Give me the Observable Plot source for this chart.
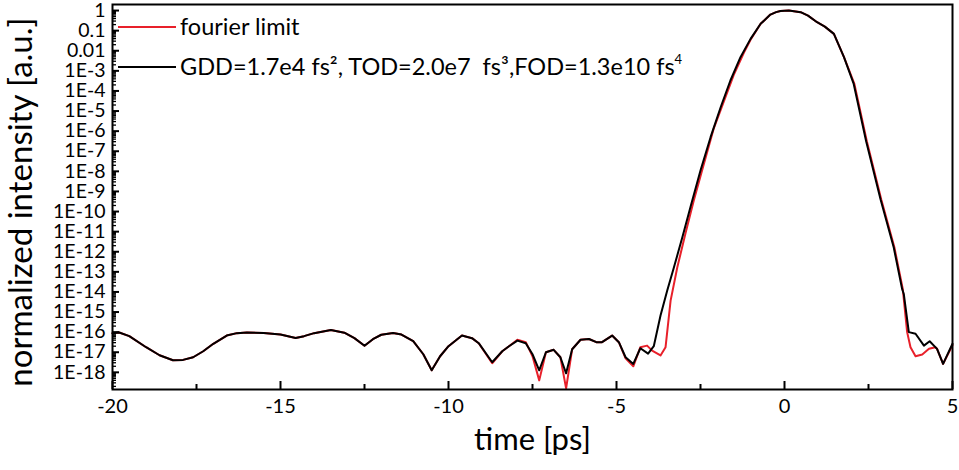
<!DOCTYPE html>
<html><head><meta charset="utf-8">
<script src="https://cdn.jsdelivr.net/npm/d3@7"></script>
<script src="https://cdn.jsdelivr.net/npm/@observablehq/plot@0.6"></script>
<style>
body{margin:0;background:#fff;}
#chart{position:relative;width:959px;height:470px;}
svg{font-family:Lato, "Open Sans", sans-serif;}
</style>
</head><body><div id="chart"></div>
<script>
// ---- data (time in ps, log10 of normalized intensity) ----
const timeBlack = [-20.0,-19.8,-19.5,-19.0,-18.6,-18.2,-17.9,-17.6,-17.3,-17.0,-16.6,-16.3,-16.0,-15.5,-15.0,-14.55,-14.3,-14.0,-13.5,-13.1,-12.8,-12.5,-12.25,-12.0,-11.65,-11.4,-11.05,-10.75,-10.5,-10.25,-10.0,-9.6,-9.3,-9.1,-8.7,-8.4,-8.2,-7.95,-7.7,-7.5,-7.3,-7.1,-6.87,-6.67,-6.5,-6.32,-6.07,-5.82,-5.6,-5.43,-5.13,-4.93,-4.73,-4.5,-4.29,-4.06,-3.89,-3.69,-3.49,-3.29,-3.04,-2.80,-2.50,-2.20,-1.90,-1.61,-1.31,-1.01,-0.71,-0.42,-0.25,-0.12,0.13,0.48,0.7,0.97,1.2,1.47,1.77,2.06,2.43,2.86,3.25,3.50,3.55,3.70,3.90,4.15,4.32,4.54,4.72,5.0];
const logBlack  = [-16.05,-16.02,-16.2,-16.75,-17.15,-17.40,-17.38,-17.25,-16.95,-16.58,-16.17,-16.05,-16.02,-16.04,-16.12,-16.29,-16.2,-16.05,-15.89,-16.03,-16.3,-16.68,-16.35,-16.13,-16.04,-16.12,-16.45,-17.1,-17.9,-17.2,-16.7,-16.17,-16.3,-16.55,-17.5,-16.95,-16.7,-16.42,-16.55,-17.1,-17.9,-17.0,-16.88,-17.25,-18.05,-16.85,-16.38,-16.34,-16.5,-16.5,-16.17,-16.5,-17.25,-17.58,-16.8,-17.07,-16.7,-15.17,-13.93,-12.77,-11.28,-9.79,-7.96,-6.30,-4.81,-3.48,-2.32,-1.41,-0.66,-0.20,-0.08,-0.02,0.0,-0.08,-0.25,-0.58,-0.8,-1.16,-2.32,-3.65,-6.5,-9.4,-11.78,-13.85,-14.1,-16.0,-16.08,-16.67,-16.45,-16.83,-17.58,-16.58];

const timeRed = [-20.0,-19.8,-19.5,-19.0,-18.6,-18.2,-17.9,-17.6,-17.3,-17.0,-16.6,-16.3,-16.0,-15.5,-15.0,-14.55,-14.3,-14.0,-13.5,-13.1,-12.8,-12.5,-12.25,-12.0,-11.65,-11.4,-11.05,-10.75,-10.5,-10.25,-10.0,-9.6,-9.3,-9.1,-8.7,-8.4,-8.2,-7.95,-7.7,-7.5,-7.3,-7.1,-6.87,-6.67,-6.5,-6.32,-6.07,-5.82,-5.6,-5.43,-5.13,-4.93,-4.73,-4.5,-4.29,-4.09,-3.94,-3.69,-3.54,-3.39,-3.19,-2.95,-2.70,-2.40,-2.11,-1.81,-1.51,-1.21,-1.01,-0.71,-0.42,-0.25,-0.12,0.13,0.48,0.7,0.97,1.2,1.47,1.77,2.08,2.45,2.88,3.27,3.52,3.65,3.75,3.90,4.10,4.30,4.49,4.54,4.72,5.0];
const logRed  = [-16.05,-16.02,-16.2,-16.75,-17.15,-17.40,-17.38,-17.25,-16.95,-16.58,-16.17,-16.05,-16.02,-16.04,-16.12,-16.29,-16.2,-16.05,-15.89,-16.03,-16.3,-16.68,-16.35,-16.13,-16.04,-16.12,-16.45,-17.1,-17.9,-17.2,-16.7,-16.17,-16.3,-16.55,-17.55,-16.95,-16.7,-16.38,-16.5,-17.2,-18.4,-17.0,-16.88,-17.25,-18.8,-16.85,-16.38,-16.34,-16.5,-16.5,-16.17,-16.5,-17.3,-17.7,-16.75,-16.67,-16.92,-17.16,-16.75,-14.43,-12.77,-11.11,-9.45,-7.63,-5.89,-4.55,-3.2,-2.1,-1.45,-0.66,-0.20,-0.08,-0.02,0.0,-0.08,-0.25,-0.58,-0.8,-1.16,-2.32,-3.65,-6.5,-9.4,-11.78,-13.85,-16.0,-16.75,-17.2,-17.11,-16.83,-16.75,-16.83,-17.58,-16.65];

const seriesNames = ["fourier limit", "GDD=1.7e4 fs², TOD=2.0e7  fs³,FOD=1.3e10 fs"];
const seriesColors = ["#e8202a", "#000000"];

const xTicks = [-20, -15, -10, -5, 0, 5];
const xMinorTicks = [-17.5, -12.5, -7.5, -2.5, 2.5];
const yTicks = [1, 0.1, 0.01, 1e-3, 1e-4, 1e-5, 1e-6, 1e-7, 1e-8, 1e-9, 1e-10, 1e-11, 1e-12, 1e-13, 1e-14, 1e-15, 1e-16, 1e-17, 1e-18];
const yTickLabels = ["1","0.1","0.01","1E-3","1E-4","1E-5","1E-6","1E-7","1E-8","1E-9","1E-10","1E-11","1E-12","1E-13","1E-14","1E-15","1E-16","1E-17","1E-18"];
const xTitle = "time [ps]";
const yTitle = "normalized intensity [a.u.]";

// ---- build tables ----
const red = timeRed.map((t, i) => ({t, v: Math.pow(10, logRed[i])}));
const black = timeBlack.map((t, i) => ({t, v: Math.pow(10, logBlack[i])}));
const yMinor = [];
for (let e = -19; e <= 0; e++) for (let k = 2; k <= 9; k++) {
  const v = k * Math.pow(10, e);
  if (v > 1.4e-19 && v < 2) yMinor.push(v);
}

const W = 959, H = 470, mT = 4, mB = 81, mL = 112, mR = 7;
const frameW = W - mL - mR, frameH = H - mT - mB;

const chart = Plot.plot({
  width: W, height: H,
  marginTop: mT, marginBottom: mB, marginLeft: mL, marginRight: mR,
  style: {fontFamily: "Lato, 'Open Sans', sans-serif", color: "#000", background: "#fff"},
  x: {domain: [-20, 5]},
  y: {type: "log", domain: [1.4e-19, 2]},
  marks: [
    Plot.line(red, {x: "t", y: "v", stroke: seriesColors[0], strokeWidth: 2}),
    Plot.line(black, {x: "t", y: "v", stroke: seriesColors[1], strokeWidth: 2}),
    Plot.frame({stroke: "#000", strokeWidth: 2}),
    // inward ticks: y minor / major, x minor / major (drawn on top of the frame)
    Plot.tickY(yMinor, {y: d => d, stroke: "#000", strokeWidth: 1.3, insetRight: frameW - 4}),
    Plot.tickY(yTicks, {y: d => d, stroke: "#000", strokeWidth: 2, insetRight: frameW - 7}),
    Plot.tickX(xMinorTicks, {x: d => d, stroke: "#000", strokeWidth: 2, insetTop: frameH - 5}),
    Plot.tickX(xTicks, {x: d => d, stroke: "#000", strokeWidth: 2, insetTop: frameH - 8}),
    Plot.axisY({ticks: yTicks, tickSize: 0, tickPadding: 7, fontSize: 19.5, label: null,
      tickFormat: d => yTickLabels[yTicks.indexOf(d)]}),
    Plot.axisX({ticks: xTicks, tickSize: 0, tickPadding: 9, fontSize: 20, label: null, tickFormat: d => String(d)}),
    Plot.text([xTitle], {frameAnchor: "bottom", dy: 51, fontSize: 31, lineAnchor: "middle", textAnchor: "middle"}),
    Plot.text([yTitle], {frameAnchor: "left", dx: -91, dy: 5, rotate: -90, fontSize: 33, lineAnchor: "middle", textAnchor: "middle"})
  ]
});
document.getElementById("chart").appendChild(chart);

// ---- legend inside the frame ----
const svg = d3.select(chart);
const lg = svg.append("g").attr("font-family", "Lato, 'Open Sans', sans-serif").attr("text-anchor", "start");
const rows = [{y: 27, i: 0}, {y: 67, i: 1}];
rows.forEach(({y, i}) => {
  lg.append("line").attr("x1", 118).attr("x2", 176).attr("y1", y).attr("y2", y)
    .attr("stroke", seriesColors[i]).attr("stroke-width", 2);
  const tx = lg.append("text").attr("x", 180).attr("y", y + 8).attr("font-size", 23.5).attr("fill", "#000")
    .attr("text-anchor", "start").text(seriesNames[i]);
  if (i === 1) tx.append("tspan").attr("font-size", 13).attr("dy", -11).text("4");
});
</script>
</body></html>
